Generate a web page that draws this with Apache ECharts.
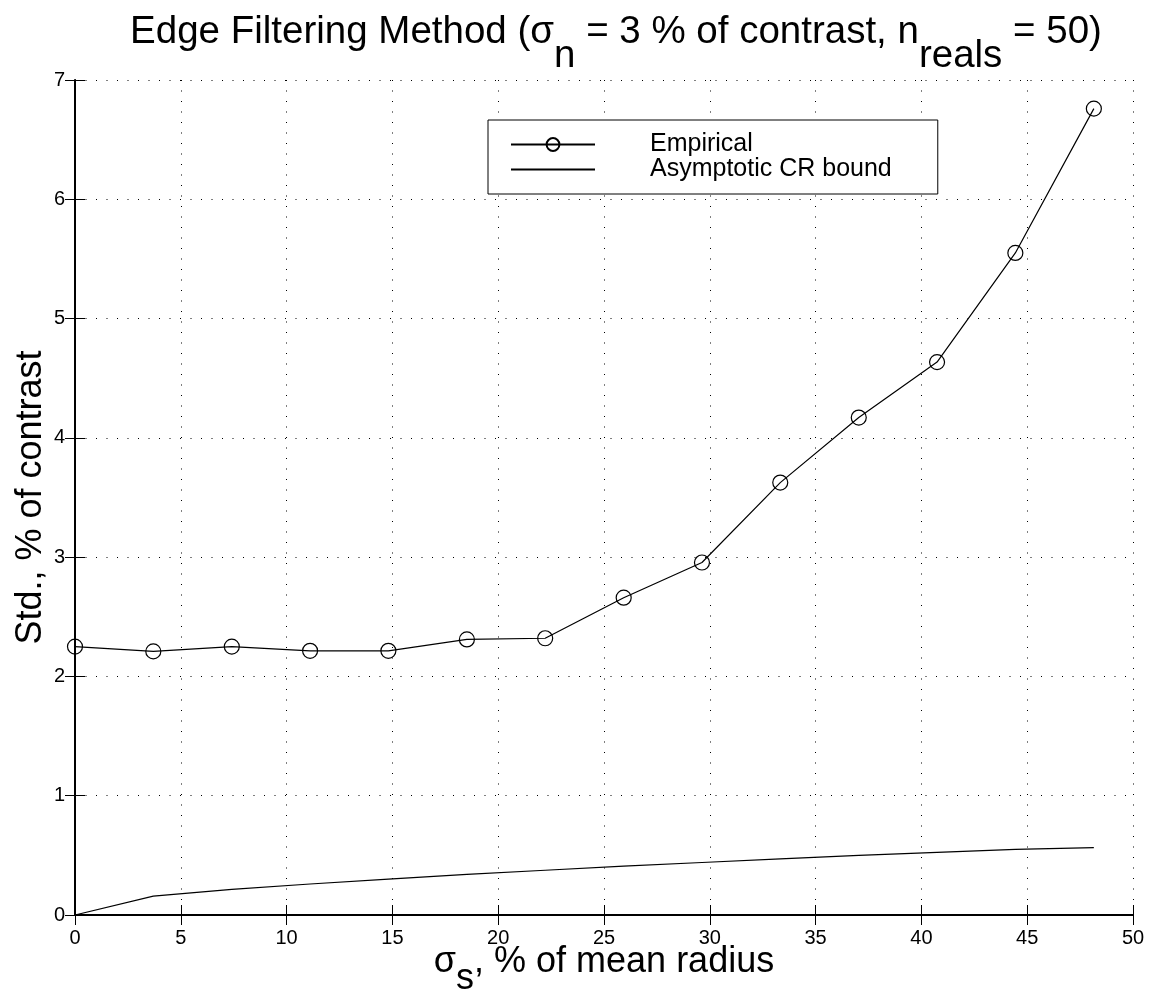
<!DOCTYPE html>
<html>
<head>
<meta charset="utf-8">
<script src="https://cdn.jsdelivr.net/npm/echarts@6/dist/echarts.min.js"></script>
<style>
  html, body { margin: 0; padding: 0; background: #fff; }
  #chart { width: 1153px; height: 992px; }
</style>
</head>
<body>
<div id="chart"></div>
<script>
// sigma_s, % of mean radius
var sigmaS = [0, 3.7, 7.41, 11.11, 14.81, 18.52, 22.22, 25.93, 29.63, 33.33, 37.04, 40.74, 44.44, 48.15];
// std., % of contrast
var empirical = [2.25, 2.21, 2.25, 2.215, 2.215, 2.31, 2.32, 2.66, 2.955, 3.625, 4.17, 4.635, 5.55, 6.76];
var crBound = [0, 0.158, 0.215, 0.26, 0.3, 0.34, 0.375, 0.41, 0.44, 0.47, 0.5, 0.525, 0.55, 0.565];
var seriesNames = ['Empirical', 'Asymptotic CR bound'];

var font = 'Liberation Sans, Arial, Helvetica, sans-serif';

function pairs(xs, ys) {
    return xs.map(function (x, i) { return [x, ys[i]]; });
}

var myChart = echarts.init(document.getElementById('chart'));
var option;

var dotted = { color: '#000', width: 1, type: [1, 9.5] };

option = {
    animation: false,
    backgroundColor: '#fff',
    title: {
        text: '{m|Edge Filtering Method (σ}{s|n}{m| = 3 % of contrast, n}{s|reals}{m| = 50)}',
        left: 611,
        top: 8,
        textAlign: 'center',
        textStyle: {
            fontWeight: 'normal',
            rich: {
                m: { fontFamily: font, fontSize: 38.5, fontWeight: 'normal', color: '#000', lineHeight: 44, verticalAlign: 'top' },
                s: { fontFamily: font, fontSize: 38.5, fontWeight: 'normal', color: '#000', lineHeight: 44, verticalAlign: 'top', padding: [24, 0, 0, 0] }
            }
        }
    },
    legend: {
        orient: 'vertical',
        left: 488,
        top: 120,
        padding: [12, 46, 12, 22],
        itemWidth: 84,
        itemHeight: 16,
        itemGap: 0,
        backgroundColor: '#fff',
        borderColor: '#000',
        borderWidth: 1,
        data: [
            { name: seriesNames[0] },
            { name: seriesNames[1], itemStyle: { opacity: 0 } }
        ],
        textStyle: {
            fontFamily: font,
            fontSize: 25,
            color: '#000',
            lineHeight: 24,
            padding: [0, 0, 0, 50]
        }
    },
    grid: {
        left: 75,
        right: 20,
        top: 80,
        bottom: 77,
        outerBoundsMode: 'none'
    },
    xAxis: [
        {
            type: 'value',
            min: 0,
            max: 50,
            interval: 5,
            name: '{a|σ}{s|s}{a|, % of mean radius}',
            nameLocation: 'middle',
            nameGap: 29,
            nameMoveOverlap: false,
            nameTextStyle: {
                rich: {
                    a: { fontFamily: font, fontSize: 36, color: '#000', lineHeight: 40, verticalAlign: 'top' },
                    s: { fontFamily: font, fontSize: 36, color: '#000', lineHeight: 40, verticalAlign: 'top', padding: [17, 0, 0, 0] }
                }
            },
            axisLine: { lineStyle: { color: '#000', width: 2 } },
            axisTick: { inside: true, length: 10, lineStyle: { color: '#000', width: 1 } },
            axisLabel: { fontFamily: font, fontSize: 20, color: '#000', margin: 13 },
            splitLine: { show: true, lineStyle: dotted }
        },
        {
            type: 'value',
            position: 'top',
            min: 0,
            max: 50,
            interval: 5,
            axisLine: { show: true, lineStyle: { color: '#000', width: 1 } },
            axisTick: { show: true, inside: true, length: 10, lineStyle: { color: '#000', width: 1 } },
            axisLabel: { show: false },
            splitLine: { show: false }
        }
    ],
    yAxis: [
        {
            type: 'value',
            min: 0,
            max: 7,
            interval: 1,
            name: 'Std., % of contrast',
            nameLocation: 'middle',
            nameGap: 26,
            nameMoveOverlap: false,
            nameTextStyle: { fontFamily: font, fontSize: 36, color: '#000' },
            axisLine: { show: true, lineStyle: { color: '#000', width: 2 } },
            axisTick: { show: true, inside: true, length: 10, lineStyle: { color: '#000', width: 1 } },
            axisLabel: { fontFamily: font, fontSize: 20, color: '#000', margin: 10 },
            splitLine: { show: true, lineStyle: dotted }
        },
        {
            type: 'value',
            position: 'right',
            min: 0,
            max: 7,
            interval: 1,
            axisLine: { show: true, lineStyle: { color: '#000', width: 1 } },
            axisTick: { show: true, inside: true, length: 10, lineStyle: { color: '#000', width: 1 } },
            axisLabel: { show: false },
            splitLine: { show: false }
        }
    ],
    series: [
        {
            name: seriesNames[0],
            type: 'line',
            data: pairs(sigmaS, empirical),
            symbol: 'circle',
            symbolSize: 15,
            showAllSymbol: true,
            itemStyle: { color: 'rgba(0,0,0,0)', borderColor: '#000', borderWidth: 1.2 },
            lineStyle: { color: '#000', width: 1.2 },
            emphasis: { disabled: true }
        },
        {
            name: seriesNames[1],
            type: 'line',
            data: pairs(sigmaS, crBound),
            symbol: 'none',
            itemStyle: { color: '#000' },
            lineStyle: { color: '#000', width: 1.2 },
            emphasis: { disabled: true }
        }
    ]
};

option && myChart.setOption(option);
</script>
</body>
</html>
